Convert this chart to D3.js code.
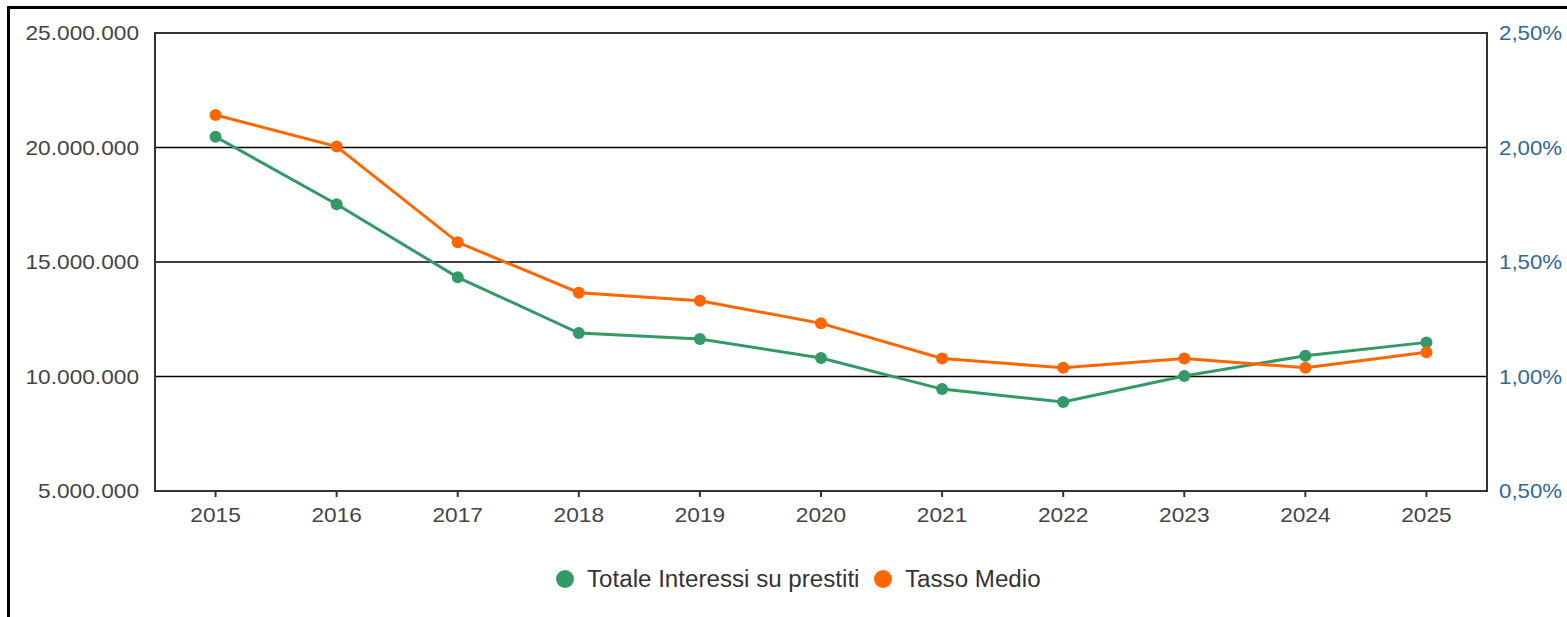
<!DOCTYPE html>
<html>
<head>
<meta charset="utf-8">
<script src="https://cdn.jsdelivr.net/npm/d3@7"></script>
<style>
  body { margin: 0; background: #fff; }
  svg { display: block; font-family: "Liberation Sans", Arial, sans-serif; }
</style>
</head>
<body>
<div id="chart"></div>
<script>
// chart size
const width = 1567;
const height = 617;
const margin = { top: 33, right: 80, bottom: 126, left: 155 };

// data
const years = ["2015", "2016", "2017", "2018", "2019", "2020", "2021", "2022", "2023", "2024", "2025"];
const interessi = [20470000, 17520000, 14330000, 11900000, 11640000, 10810000, 9450000, 8890000, 10020000, 10910000, 11490000];
const tasso = [2.142, 2.004, 1.586, 1.366, 1.331, 1.232, 1.079, 1.038, 1.079, 1.038, 1.106];
const leftTicks = [5000000, 10000000, 15000000, 20000000, 25000000];
const rightTicks = [0.5, 1.0, 1.5, 2.0, 2.5];
const seriesNames = ["Totale Interessi su prestiti", "Tasso Medio"];
const seriesColors = ["#339966", "#ff6600"];

const svg = d3.select("#chart")
  .append("svg")
  .attr("width", width)
  .attr("height", height);

// outer frame, runs off the right and bottom edge
svg.append("rect")
  .attr("x", 8.5)
  .attr("y", 7.5)
  .attr("width", 1700)
  .attr("height", 800)
  .attr("fill", "none")
  .attr("stroke", "#000")
  .attr("stroke-width", 3);

const plotW = 1487 - margin.left;
const plotH = 491 - margin.top;

const g = svg.append("g")
  .attr("transform", "translate(" + margin.left + "," + margin.top + ")");

// scales
const x = d3.scaleBand()
  .domain(years)
  .range([0, plotW]);

const yLeft = d3.scaleLinear()
  .domain([5000000, 25000000])
  .range([plotH, 0]);

const yRight = d3.scaleLinear()
  .domain([0.5, 2.5])
  .range([plotH, 0]);

const fmtLeft = d3.formatLocale({ decimal: ",", thousands: ".", grouping: [3], currency: ["€", ""] }).format(",d");
const fmtRight = function(d) { return d.toFixed(2).replace(".", ",") + "%"; };

// the reference font is a bit wider than Liberation Sans, stretch it
function widen(sel, k) {
  sel.each(function() {
    const w = this.getComputedTextLength();
    d3.select(this)
      .attr("textLength", w * k)
      .attr("lengthAdjust", "spacingAndGlyphs");
  });
}

// gridlines
g.selectAll(".grid")
  .data(leftTicks.slice(1, -1))
  .enter()
  .append("line")
  .attr("class", "grid")
  .attr("x1", 0)
  .attr("x2", plotW)
  .attr("y1", function(d) { return yLeft(d); })
  .attr("y2", function(d) { return yLeft(d); })
  .attr("stroke", "#000")
  .attr("stroke-width", 1.5);

// left axis labels
const axL = g.append("g")
  .call(d3.axisLeft(yLeft).tickValues(leftTicks).tickFormat(fmtLeft).tickSize(0).tickPadding(16));
axL.select(".domain").remove();
axL.selectAll("text")
  .attr("fill", "#444")
  .style("font-size", "21px")
  .style("font-family", "Liberation Sans, Arial, sans-serif")
  .call(widen, 1.08);

// right axis labels
const axR = g.append("g")
  .attr("transform", "translate(" + plotW + ",0)")
  .call(d3.axisRight(yRight).tickValues(rightTicks).tickFormat(fmtRight).tickSize(0).tickPadding(12));
axR.select(".domain").remove();
axR.selectAll("text")
  .attr("fill", "#336699")
  .style("font-size", "21px")
  .style("font-family", "Liberation Sans, Arial, sans-serif")
  .call(widen, 1.06);

// bottom axis
const axB = g.append("g")
  .attr("transform", "translate(0," + plotH + ")")
  .call(d3.axisBottom(x).tickSize(6).tickSizeOuter(0).tickPadding(10));
axB.select(".domain").remove();
axB.selectAll("line").attr("stroke", "#333").attr("stroke-width", 2);
axB.selectAll("text")
  .attr("fill", "#444")
  .style("font-size", "21px")
  .style("font-family", "Liberation Sans, Arial, sans-serif")
  .call(widen, 1.08);

// plot border
g.append("rect")
  .attr("x", 0)
  .attr("y", 0)
  .attr("width", plotW)
  .attr("height", plotH)
  .attr("fill", "none")
  .attr("stroke", "#333")
  .attr("stroke-width", 2);

const xc = function(d, i) { return x(years[i]) + x.bandwidth() / 2; };

// lines and dots
const series = [
  { values: interessi, scale: yLeft, color: seriesColors[0] },
  { values: tasso, scale: yRight, color: seriesColors[1] }
];

series.forEach(function(s) {
  const line = d3.line()
    .x(xc)
    .y(function(d) { return s.scale(d); });

  g.append("path")
    .datum(s.values)
    .attr("d", line)
    .attr("fill", "none")
    .attr("stroke", s.color)
    .attr("stroke-width", 3);

  g.selectAll(null)
    .data(s.values)
    .enter()
    .append("circle")
    .attr("cx", xc)
    .attr("cy", function(d) { return s.scale(d); })
    .attr("r", 6)
    .attr("fill", s.color);
});

// legend
const legend = svg.append("g").attr("transform", "translate(0,579)");
const legendX = [565, 883];
legendX.forEach(function(lx, i) {
  legend.append("circle")
    .attr("cx", lx)
    .attr("cy", 0)
    .attr("r", 9)
    .attr("fill", seriesColors[i]);
  legend.append("text")
    .attr("x", lx + 22)
    .attr("y", 0)
    .attr("dy", "0.35em")
    .attr("fill", "#333")
    .style("font-size", "23px")
    .text(seriesNames[i])
    .call(widen, 1.05);
});
</script>
</body>
</html>
